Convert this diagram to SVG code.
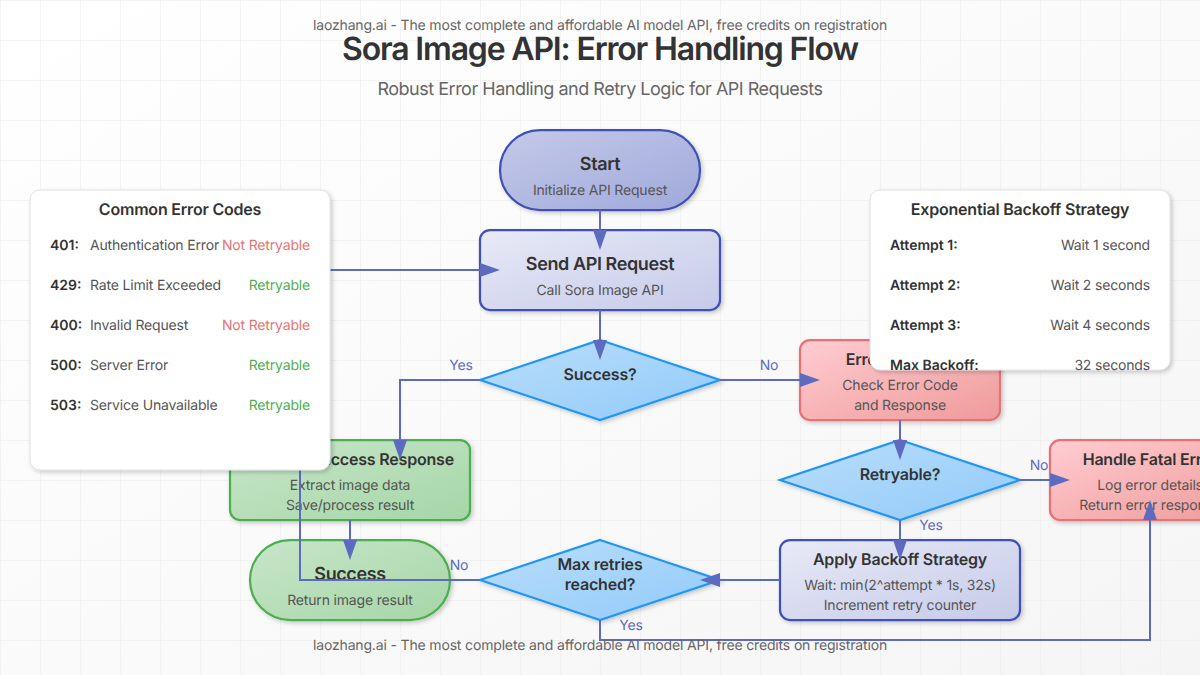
<svg xmlns="http://www.w3.org/2000/svg" width="1200" height="675" viewBox="0 0 1200 675">
<defs>
<linearGradient id="bg" x1="0" y1="0" x2="1" y2="1"><stop offset="0" stop-color="#ffffff"/><stop offset="1" stop-color="#f5f5f5"/></linearGradient>
<linearGradient id="gStart" x1="0" y1="0" x2="1" y2="1"><stop offset="0" stop-color="#c5cae9"/><stop offset="1" stop-color="#9fa8da"/></linearGradient>
<linearGradient id="gProc" x1="0" y1="0" x2="1" y2="1"><stop offset="0" stop-color="#e8eaf6"/><stop offset="1" stop-color="#c5cae9"/></linearGradient>
<linearGradient id="gDec" x1="0" y1="0" x2="1" y2="1"><stop offset="0" stop-color="#bbdefb"/><stop offset="1" stop-color="#90caf9"/></linearGradient>
<linearGradient id="gErr" x1="0" y1="0" x2="1" y2="1"><stop offset="0" stop-color="#ffcdd2"/><stop offset="1" stop-color="#ef9a9a"/></linearGradient>
<linearGradient id="gOk" x1="0" y1="0" x2="1" y2="1"><stop offset="0" stop-color="#c8e6c9"/><stop offset="1" stop-color="#a5d6a7"/></linearGradient>
<pattern id="grid" width="40" height="40" patternUnits="userSpaceOnUse"><path d="M40 0H0V40" fill="none" stroke="#f0f0f0" stroke-width="1.6"/></pattern>
<filter id="sh" x="-10%" y="-10%" width="125%" height="130%"><feDropShadow dx="2" dy="2" stdDeviation="2" flood-color="#000" flood-opacity="0.2"/></filter>
<marker id="arr" markerWidth="10" markerHeight="7" refX="0" refY="3.5" orient="auto"><polygon points="0 0,10 3.5,0 7" fill="#5c6bc0"/></marker>
</defs>
<style>
text{font-family:Inter,"Noto Sans","Liberation Sans",sans-serif;text-rendering:geometricPrecision}
.t{font-size:16px;font-weight:600;fill:#333;text-anchor:middle;letter-spacing:-0.2px}
.b{font-size:18px;letter-spacing:-0.4px}
.s{font-size:14px;fill:#555;text-anchor:middle;letter-spacing:-0.17px}
.n{filter:url(#sh);stroke-width:2.25}
.start{fill:url(#gStart);stroke:#3f51b5}
.proc{fill:url(#gProc);stroke:#3f51b5}
.dec{fill:url(#gDec);stroke:#2196f3}
.err{fill:url(#gErr);stroke:#e57373}
.ok{fill:url(#gOk);stroke:#4caf50}
.c{fill:none;stroke:#5c6bc0;stroke-width:2;marker-end:url(#arr)}
.l{font-size:14px;fill:#5c6bc0;text-anchor:middle;letter-spacing:-0.17px}
.panel{fill:#fff;stroke:#e0e0e0;stroke-width:1;filter:url(#sh)}
.k{font-size:14px;font-weight:600;fill:#333}
.v{font-size:14px;fill:#555;letter-spacing:-0.17px}
.e{text-anchor:end}
.bad{font-size:14px;fill:#e57373;text-anchor:end;letter-spacing:-0.17px}
.good{font-size:14px;fill:#4caf50;text-anchor:end;letter-spacing:-0.17px}
.w{font-size:14px;fill:#666;text-anchor:middle;letter-spacing:-0.16px}
.title{font-size:32px;font-weight:600;fill:#333;text-anchor:middle;letter-spacing:-1.18px}
.sub{font-size:18px;fill:#666;text-anchor:middle;letter-spacing:-0.49px}
</style>
<rect width="1200" height="675" fill="url(#bg)"/>
<rect width="1200" height="675" fill="url(#grid)"/>
<text class="w" x="600" y="30">laozhang.ai - The most complete and affordable AI model API, free credits on registration</text>
<text class="title" x="600" y="60">Sora Image API: Error Handling Flow</text>
<text class="sub" x="600" y="95">Robust Error Handling and Retry Logic for API Requests</text>
<g id="node-start"><rect class="n start" x="500" y="130" width="200" height="80" rx="40"/><text class="t b" x="600" y="170">Start</text><text class="s" x="600" y="195">Initialize API Request</text></g>
<g id="node-send"><rect class="n proc" x="480" y="230" width="240" height="80" rx="10"/><text class="t b" x="600" y="270">Send API Request</text><text class="s" x="600" y="295">Call Sora Image API</text></g>
<g id="node-success-check"><polygon class="n dec" points="600,340 720,380 600,420 480,380"/><text class="t" x="600" y="380">Success?</text></g>
<g id="node-error"><rect class="n err" x="800" y="340" width="200" height="80" rx="10"/><text class="t" x="900" y="365">Error Handling</text><text class="s" x="900" y="390">Check Error Code</text><text class="s" x="900" y="410">and Response</text></g>
<g id="node-success-response"><rect class="n ok" x="230" y="440" width="240" height="80" rx="10"/><text class="t" x="350" y="465">Process Success Response</text><text class="s" x="350" y="490">Extract image data</text><text class="s" x="350" y="510">Save/process result</text></g>
<g id="node-retryable"><polygon class="n dec" points="900,440 1020,480 900,520 780,480"/><text class="t" x="900" y="480">Retryable?</text></g>
<g id="node-fatal"><rect class="n err" x="1050" y="440" width="200" height="80" rx="10"/><text class="t" x="1150" y="465">Handle Fatal Error</text><text class="s" x="1150" y="490">Log error details</text><text class="s" x="1150" y="510">Return error response</text></g>
<g id="node-success-end"><rect class="n ok" x="250" y="540" width="200" height="80" rx="40"/><text class="t b" x="350" y="580">Success</text><text class="s" x="350" y="605">Return image result</text></g>
<g id="node-max"><polygon class="n dec" points="600,540 720,580 600,620 480,580"/><text class="t" x="600" y="570">Max retries</text><text class="t" x="600" y="590">reached?</text></g>
<g id="node-backoff"><rect class="n proc" x="780" y="540" width="240" height="80" rx="10"/><text class="t" x="900" y="565">Apply Backoff Strategy</text><text class="s" x="900" y="590">Wait: min(2^attempt * 1s, 32s)</text><text class="s" x="900" y="610">Increment retry counter</text></g>
<g id="connectors">
<path class="c" d="M600 210V230"/>
<path class="c" d="M600 310V340"/>
<path class="c" d="M480 380H400V440"/>
<path class="c" d="M720 380H800"/>
<path class="c" d="M350 520V540"/>
<path class="c" d="M900 420V440"/>
<path class="c" d="M1020 480H1050"/>
<path class="c" d="M900 520V540"/>
<path class="c" d="M780 580H720"/>
<path class="c" d="M480 580H300V270H480"/>
<path class="c" d="M600 620V640H1150V520"/>
<text class="l" x="461" y="370">Yes</text>
<text class="l" x="769" y="370">No</text>
<text class="l" x="1039" y="470">No</text>
<text class="l" x="931" y="530">Yes</text>
<text class="l" x="459" y="570">No</text>
<text class="l" x="631" y="630">Yes</text>
</g>
<g id="panel-errors"><rect class="panel" x="30" y="190" width="300" height="280" rx="10"/>
<text class="t" x="180" y="215">Common Error Codes</text>
<text class="k" x="50" y="250">401:</text><text class="v" x="90" y="250">Authentication Error</text><text class="bad" x="310" y="250">Not Retryable</text>
<text class="k" x="50" y="290">429:</text><text class="v" x="90" y="290">Rate Limit Exceeded</text><text class="good" x="310" y="290">Retryable</text>
<text class="k" x="50" y="330">400:</text><text class="v" x="90" y="330">Invalid Request</text><text class="bad" x="310" y="330">Not Retryable</text>
<text class="k" x="50" y="370">500:</text><text class="v" x="90" y="370">Server Error</text><text class="good" x="310" y="370">Retryable</text>
<text class="k" x="50" y="410">503:</text><text class="v" x="90" y="410">Service Unavailable</text><text class="good" x="310" y="410">Retryable</text>
</g>
<g id="panel-backoff"><rect class="panel" x="870" y="190" width="300" height="180" rx="10"/>
<text class="t" x="1020" y="215">Exponential Backoff Strategy</text>
<text class="k" x="890" y="250">Attempt 1:</text><text class="v e" x="1150" y="250">Wait 1 second</text>
<text class="k" x="890" y="290">Attempt 2:</text><text class="v e" x="1150" y="290">Wait 2 seconds</text>
<text class="k" x="890" y="330">Attempt 3:</text><text class="v e" x="1150" y="330">Wait 4 seconds</text>
<text class="k" x="890" y="370">Max Backoff:</text><text class="v e" x="1150" y="370">32 seconds</text>
</g>
<text class="w" x="600" y="650">laozhang.ai - The most complete and affordable AI model API, free credits on registration</text>
</svg>
